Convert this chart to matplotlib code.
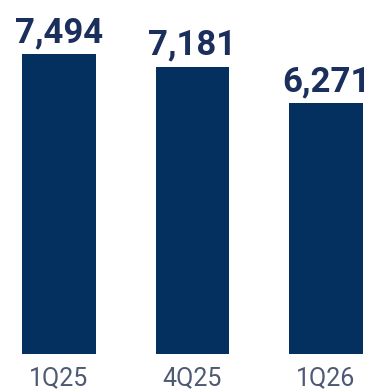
import matplotlib
matplotlib.use('Agg')
import matplotlib.pyplot as plt

# data
quarters = ['1Q25', '4Q25', '1Q26']
values = [7494, 7181, 6271]
labels = ['7,494', '7,181', '6,271']

bar_color = '#03305f'
text_color = '#1b2f5c'
tick_color = '#4e5a74'

plt.rcParams['font.family'] = ['Roboto', 'DejaVu Sans']

fig = plt.figure(figsize=(3.69, 3.92), dpi=100)
ax = fig.add_axes([0, 38 / 392, 1, 354 / 392])

x = range(len(quarters))
ax.bar(x, values, width=0.554, color=bar_color)

# value labels above the bars
for i, v in enumerate(values):
    ax.annotate(labels[i], (i, v), xytext=(0, 8.6), textcoords='offset points',
                ha='center', va='baseline', fontsize=25, fontweight='bold',
                color=text_color)

ax.set_xlim(-0.442, 2.322)
ax.set_ylim(0, 8843)
ax.set_xticks(list(x))
ax.set_xticklabels(quarters, fontsize=18, fontweight='normal', color=tick_color)
ax.tick_params(axis='x', length=0, pad=9)
ax.set_yticks([])
for s in ax.spines.values():
    s.set_visible(False)

fig.savefig('out.png', dpi=100)
